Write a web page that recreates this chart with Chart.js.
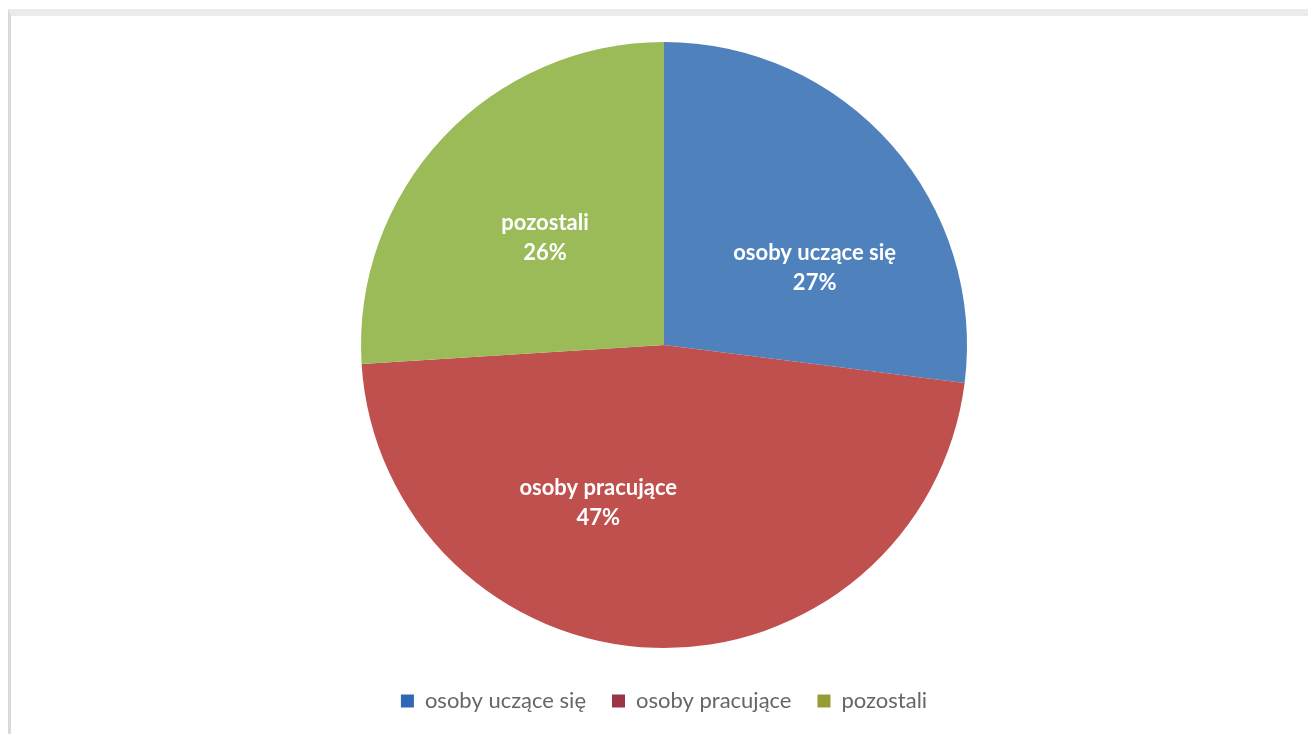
<!DOCTYPE html>
<html>
<head>
<meta charset="utf-8">
<script src="https://cdn.jsdelivr.net/npm/chart.js@4/dist/chart.umd.min.js"></script>
<style>
    html, body { margin: 0; padding: 0; background: #fff; }
    #frame {
        position: absolute; left: 8px; top: 9px; width: 1297px; height: 718px;
        border-top: 7px solid #ebebeb; border-left: 3px solid #d9d9d9;
    }
    #chart-box { position: relative; width: 1297px; height: 718px; }
</style>
</head>
<body>
<div id="frame"><div id="chart-box"><canvas id="pie"></canvas></div></div>
<script>
// chart data
const categories = ['osoby uczące się', 'osoby pracujące', 'pozostali'];
const shares = [27, 47, 26];
const percentLabels = ['27%', '47%', '26%'];

const sliceColors = ['#4f81bd', '#c0504d', '#9bbb59'];
const legendColors = ['#3066b6', '#9a3446', '#989c36'];

// draws "name / pct" inside each slice, Excel-like best fit
const sliceLabels = {
    id: 'sliceLabels',
    afterDatasetsDraw(chart, args, opts) {
        const ctx = chart.ctx;
        const meta = chart.getDatasetMeta(0);
        ctx.save();
        ctx.fillStyle = '#fff';
        ctx.font = 'bold 22px Lato';
        ctx.textAlign = 'center';
        ctx.textBaseline = 'middle';
        meta.data.forEach((arc, i) => {
            const p = arc.getProps(['x', 'y', 'startAngle', 'endAngle', 'outerRadius']);
            const mid = (p.startAngle + p.endAngle) / 2 + opts.angleShift[i] * Math.PI / 180;
            const r = p.outerRadius * opts.radiusFrac[i];
            const x = p.x + Math.cos(mid) * r;
            const y = p.y + Math.sin(mid) * r;
            ctx.fillText(categories[i], x, y - 14);
            ctx.fillText(percentLabels[i], x, y + 16);
        });
        ctx.restore();
    }
};

document.addEventListener('DOMContentLoaded', () => {
    const ctx = document.getElementById('pie').getContext('2d');
    new Chart(ctx, {
        type: 'pie',
        data: {
            labels: categories,
            datasets: [{ data: shares, backgroundColor: sliceColors, borderWidth: 0 }]
        },
        options: {
            responsive: true,
            maintainAspectRatio: false,
            animation: false,
            layout: { padding: { top: 26, left: 9, right: 0, bottom: 12 } },
            plugins: {
                tooltip: { enabled: false },
                legend: {
                    position: 'bottom',
                    title: { display: true, text: ' ', font: { size: 10, lineHeight: 1.2 }, padding: 2 },
                    labels: {
                        font: { family: 'Lato', size: 22 },
                        color: '#595959',
                        boxWidth: 13,
                        boxHeight: 13,
                        padding: 26,
                        generateLabels: chart => categories.map((c, i) => ({
                            text: c, fillStyle: legendColors[i], strokeStyle: legendColors[i],
                            lineWidth: 0, index: i, datasetIndex: 0
                        }))
                    }
                },
                sliceLabels: { radiusFrac: [0.56, 0.56, 0.53], angleShift: [14, 21, -1] }
            }
        },
        plugins: [sliceLabels]
    });
});
</script>
</body>
</html>
